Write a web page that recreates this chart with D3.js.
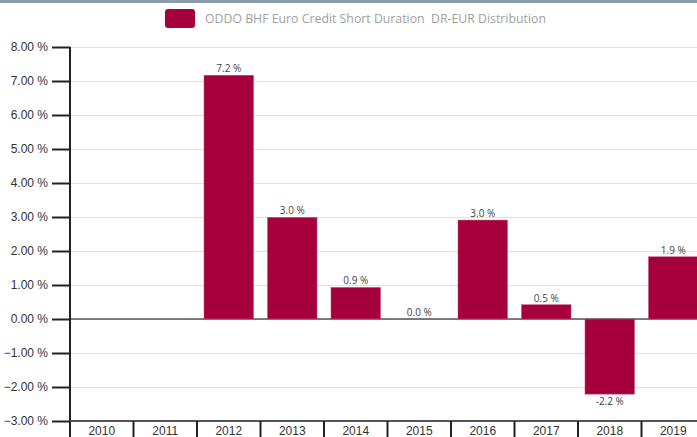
<!DOCTYPE html>
<html>
<head>
<meta charset="utf-8">
<script src="https://cdn.jsdelivr.net/npm/d3@7"></script>
<style>
  body { margin: 0; background: #fff; overflow: hidden; }
  svg { display: block; font-family: "Open Sans", sans-serif; }
  .grid line { stroke: #e0e0e0; }
  .grid path { display: none; }
</style>
</head>
<body>
<div id="chart"></div>
<script>
// yearly performance
var years = ["2010", "2011", "2012", "2013", "2014", "2015", "2016", "2017", "2018", "2019"];
var values = [null, null, 7.17, 2.99, 0.93, 0.0, 2.91, 0.42, -2.21, 1.83];
var valueLabels = [null, null, "7.2 %", "3.0 %", "0.9 %", "0.0 %", "3.0 %", "0.5 %", "-2.2 %", "1.9 %"];
var yTicks = [8, 7, 6, 5, 4, 3, 2, 1, 0, -1, -2, -3];
var seriesName = "ODDO BHF Euro Credit Short Duration  DR-EUR Distribution";

var W = 697, H = 437;
var margin = { top: 47, left: 70, bottom: 16 };
var barColor = "#a5003c";

var svg = d3.select("#chart").append("svg")
    .attr("width", W)
    .attr("height", H);

// grey strip on top
svg.append("rect")
    .attr("x", 0).attr("y", 0)
    .attr("width", W).attr("height", 3)
    .attr("fill", "#8a9dab");

// legend
svg.append("rect")
    .attr("x", 165).attr("y", 9)
    .attr("width", 30).attr("height", 19)
    .attr("rx", 3)
    .attr("fill", barColor);
svg.append("text")
    .attr("x", 205).attr("y", 22.5)
    .attr("fill", "#a0a0a0")
    .style("font-size", "12.3px")
    .style("white-space", "pre")
    .attr("xml:space", "preserve")
    .text(seriesName);

var x = d3.scaleBand()
    .domain(years)
    .range([margin.left, margin.left + 63.5 * years.length])
    .padding(0);

var yScale = d3.scaleLinear()
    .domain([-3, 8])
    .range([421, 47]);

// gridlines
svg.append("g")
    .attr("class", "grid")
    .attr("transform", "translate(" + margin.left + ",0)")
    .call(d3.axisLeft(yScale)
        .tickValues(yTicks)
        .tickSize(-(W - margin.left))
        .tickFormat(""));

// zero line
svg.append("line")
    .attr("x1", margin.left).attr("x2", W)
    .attr("y1", yScale(0)).attr("y2", yScale(0))
    .attr("stroke", "#555").attr("stroke-width", 1.5);

// bars
var inset = x.bandwidth() * 0.11;
var barData = values.map((v, i) => ({ year: years[i], value: v, label: valueLabels[i] }))
    .filter(d => d.value !== null);

svg.selectAll(".bar")
    .data(barData)
    .enter().append("rect")
    .attr("class", "bar")
    .attr("x", d => x(d.year) + inset)
    .attr("width", x.bandwidth() - 2 * inset)
    .attr("y", d => yScale(Math.max(0, d.value)))
    .attr("height", d => Math.abs(yScale(d.value) - yScale(0)))
    .attr("fill", barColor)
    .attr("stroke", "#c4557a")
    .attr("stroke-width", 0.5);

// value labels
svg.selectAll(".val")
    .data(barData)
    .enter().append("text")
    .attr("class", "val")
    .attr("x", d => x(d.year) + x.bandwidth() / 2)
    .attr("y", d => d.value >= 0 ? yScale(d.value) - 3 : yScale(d.value) + 11)
    .attr("text-anchor", "middle")
    .attr("fill", "#444")
    .style("font-size", "10px")
    .text(d => d.label);

// y axis
var yAxis = svg.append("g")
    .attr("transform", "translate(" + margin.left + ",0)")
    .call(d3.axisLeft(yScale)
        .tickValues(yTicks)
        .tickSize(18)
        .tickPadding(4)
        .tickFormat(d => d3.format(".2f")(d) + " %"));
yAxis.select(".domain").attr("stroke", "#222").attr("stroke-width", 2)
    .attr("d", "M0," + yScale(8) + "V" + H);
yAxis.selectAll(".tick line").attr("stroke", "#222").attr("stroke-width", 2);
yAxis.selectAll(".tick text").attr("fill", "#333").style("font-size", "12px");

// x axis
var xAxis = svg.append("g")
    .attr("transform", "translate(0," + yScale(-3) + ")")
    .call(d3.axisBottom(x).tickSize(0).tickPadding(5));
xAxis.select(".domain").remove();
xAxis.selectAll(".tick text").attr("fill", "#333").style("font-size", "12px");

svg.append("line")
    .attr("x1", margin.left).attr("x2", W)
    .attr("y1", yScale(-3)).attr("y2", yScale(-3))
    .attr("stroke", "#555").attr("stroke-width", 2);

svg.selectAll(".sep")
    .data(years.slice(1))
    .enter().append("line")
    .attr("class", "sep")
    .attr("x1", d => x(d)).attr("x2", d => x(d))
    .attr("y1", yScale(-3)).attr("y2", H)
    .attr("stroke", "#222").attr("stroke-width", 2);
</script>
</body>
</html>
